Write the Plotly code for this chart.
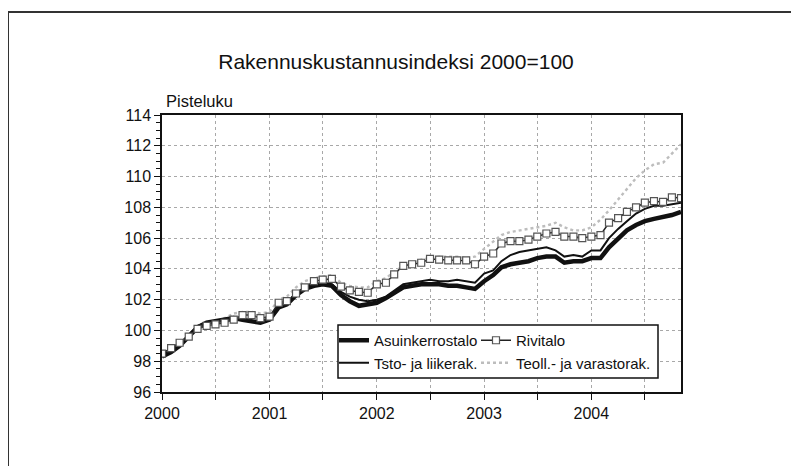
"""
Rakennuskustannusindeksi 2000=100 - monthly building cost index by building type.
"""

import pandas as pd
import plotly.graph_objects as go

# ── Data ─────────────────────────────────────────────────────────────────────
MONTHS = pd.date_range("2000-01-01", periods=59, freq="MS")  # Jan 2000 .. Nov 2004

ASUINKERROSTALO = [
    98.3, 98.6, 99.0, 99.6, 100.2, 100.5, 100.6, 100.7, 100.8, 100.7, 100.6, 100.5,
    100.7, 101.5, 101.7, 102.3, 102.7, 102.9, 103.0, 102.9, 102.3, 101.9, 101.6, 101.7,
    101.8, 102.1, 102.4, 102.8, 102.9, 103.0, 103.0, 103.0, 102.9, 102.9, 102.8, 102.7,
    103.2, 103.6, 104.1, 104.3, 104.4, 104.5, 104.7, 104.8, 104.8, 104.4, 104.5, 104.5,
    104.7, 104.7, 105.4, 106.0, 106.5, 106.85, 107.1, 107.25, 107.35, 107.5, 107.7,
]
RIVITALO = [
    98.5, 98.85, 99.2, 99.6, 100.1, 100.3, 100.4, 100.5, 100.7, 101.0, 101.0, 100.8,
    100.9, 101.8, 101.9, 102.4, 102.8, 103.2, 103.3, 103.35, 102.85, 102.6, 102.5, 102.45,
    103.0, 103.1, 103.65, 104.2, 104.3, 104.4, 104.65, 104.6, 104.55, 104.55, 104.55, 104.3,
    104.8, 105.0, 105.65, 105.8, 105.8, 105.9, 106.1, 106.3, 106.4, 106.1, 106.1, 106.0,
    106.1, 106.2, 107.0, 107.3, 107.7, 108.0, 108.3, 108.4, 108.35, 108.65, 108.6,
]
TSTO_LIIKERAK = [
    98.4, 98.7, 99.1, 99.7, 100.3, 100.5, 100.6, 100.7, 100.8, 100.7, 100.6, 100.6,
    100.8, 101.6, 101.8, 102.4, 102.8, 103.0, 103.1, 103.0, 102.5, 102.2, 102.0, 101.9,
    102.0, 102.2, 102.6, 103.0, 103.1, 103.2, 103.3, 103.2, 103.2, 103.3, 103.2, 103.1,
    103.7, 103.9, 104.5, 104.9, 105.1, 105.2, 105.3, 105.4, 105.2, 104.8, 104.9, 104.8,
    105.2, 105.2, 106.0, 106.6, 107.1, 107.6, 107.9, 108.1, 108.1, 108.2, 108.3,
]
TEOLL_VARASTORAK = [
    98.4, 98.8, 99.1, 99.6, 100.1, 100.4, 100.6, 100.8, 101.1, 101.2, 101.2, 101.1,
    101.2, 102.0, 102.2, 102.8, 103.2, 103.4, 103.5, 103.6, 103.1, 102.9, 102.8, 102.8,
    103.2, 103.4, 103.8, 104.2, 104.4, 104.6, 104.7, 104.8, 104.8, 104.8, 104.7, 104.8,
    105.3, 105.8, 106.2, 106.4, 106.5, 106.6, 106.7, 106.8, 107.0, 106.7, 106.5, 106.5,
    106.7, 107.2, 107.8, 108.5, 109.2, 109.9, 110.4, 110.8, 110.9, 111.5, 112.1,
]

TICK_DATES = pd.date_range("2000-01-01", "2004-07-01", freq="6MS")
TICK_TEXT = [str(d.year) if d.month == 1 else "" for d in TICK_DATES]

TITLE = "Rakennuskustannusindeksi 2000=100"
Y_LABEL = "Pisteluku"

# ── Style ────────────────────────────────────────────────────────────────────
FONT = "Liberation Sans, Arial, sans-serif"
INK = "#111111"
GRID = "#a8a8a8"

# page is 799 x 466, but the body has an 8px margin -> figure is drawn 8px in
OFF = 8
W, H = 799 - OFF, 466 - OFF
# plot area in figure pixels
L, R, T, B = 162 - OFF, 681 - OFF, 115 - OFF, 392 - OFF


def px_to_paper(x, y):
    """Window pixel -> paper coordinates."""
    return (x - OFF - L) / (R - L), (B - (y - OFF)) / (B - T)


fig = go.Figure()

fig.add_trace(go.Scatter(
    x=MONTHS, y=TEOLL_VARASTORAK, name="Teoll.- ja varastorak.",
    mode="lines", line=dict(color="#bdbdbd", width=2.4, dash="dot"),
    legend="legend2", legendrank=2,
))
fig.add_trace(go.Scatter(
    x=MONTHS, y=ASUINKERROSTALO, name="Asuinkerrostalo",
    mode="lines", line=dict(color=INK, width=4.5),
    legend="legend", legendrank=1,
))
fig.add_trace(go.Scatter(
    x=MONTHS, y=TSTO_LIIKERAK, name="Tsto- ja liikerak.",
    mode="lines", line=dict(color=INK, width=2),
    legend="legend", legendrank=2,
))
fig.add_trace(go.Scatter(
    x=MONTHS, y=RIVITALO, name="Rivitalo",
    mode="lines+markers", line=dict(color="#222222", width=1.5),
    marker=dict(symbol="square", size=7, color="white",
                line=dict(color="#555555", width=1.2)),
    legend="legend2", legendrank=1,
))

# outer frame of the scanned figure (left and top edges)
fx0, fy0 = px_to_paper(OFF, 12)
fx1, fy1 = px_to_paper(800, 470)
fig.add_shape(type="line", xref="paper", yref="paper",
              x0=fx0, y0=fy0, x1=fx1, y1=fy0, line=dict(color="#333333", width=2))
fig.add_shape(type="line", xref="paper", yref="paper",
              x0=fx0, y0=fy0, x1=fx0, y1=fy1, line=dict(color="#333333", width=2))

# legend box
bx0, by0 = px_to_paper(338, 325)
bx1, by1 = px_to_paper(658, 378)
fig.add_shape(type="rect", xref="paper", yref="paper", layer="above",
              x0=bx0, y0=by0, x1=bx1, y1=by1,
              fillcolor="white", line=dict(color=INK, width=1.5))

fig.add_annotation(text=Y_LABEL, xref="paper", yref="paper",
                   x=px_to_paper(164, 0)[0], y=px_to_paper(0, 112)[1],
                   xanchor="left", yanchor="bottom", showarrow=False,
                   font=dict(size=16.5, color=INK, family=FONT))

LEG = dict(
    yanchor="top", xanchor="left",
    bgcolor="rgba(0,0,0,0)", borderwidth=0,
    font=dict(size=15, family=FONT, color=INK),
    itemwidth=30, tracegroupgap=6, orientation="v",
)
l1x, l1y = px_to_paper(334, 324)
l2x, _ = px_to_paper(476, 324)

fig.update_layout(
    width=W, height=H,
    margin=dict(l=L, r=W - R, t=T, b=H - B, autoexpand=False),
    paper_bgcolor="white", plot_bgcolor="white",
    font=dict(family=FONT, color=INK, size=16),
    title=dict(text=TITLE, x=(396 - OFF) / W, xref="container", xanchor="center",
               y=1 - (62 - OFF) / H, yref="container", yanchor="middle",
               font=dict(size=21, family=FONT, color=INK)),
    showlegend=True,
    legend=dict(x=l1x, y=l1y, **LEG),
    legend2=dict(x=l2x, y=l1y, **LEG),
    xaxis=dict(
        range=[MONTHS[0], MONTHS[-1]],
        tickvals=TICK_DATES, ticktext=TICK_TEXT,
        ticks="outside", ticklen=6, tickcolor=INK, tickwidth=1,
        showgrid=True, gridcolor=GRID, griddash="dot", gridwidth=1,
        showline=True, linecolor=INK, linewidth=1.5, mirror=True,
        zeroline=False, tickfont=dict(size=16),
    ),
    yaxis=dict(
        range=[96, 114], dtick=2, tick0=96,
        ticks="outside", ticklen=6, tickcolor=INK, tickwidth=1,
        minor=dict(dtick=0.5, ticks="outside", ticklen=4, tickcolor=INK, showgrid=False),
        showgrid=True, gridcolor=GRID, griddash="dot", gridwidth=1,
        showline=True, linecolor=INK, linewidth=1.5, mirror=True,
        zeroline=False, tickfont=dict(size=16),
    ),
)

fig.write_html("out.html")
